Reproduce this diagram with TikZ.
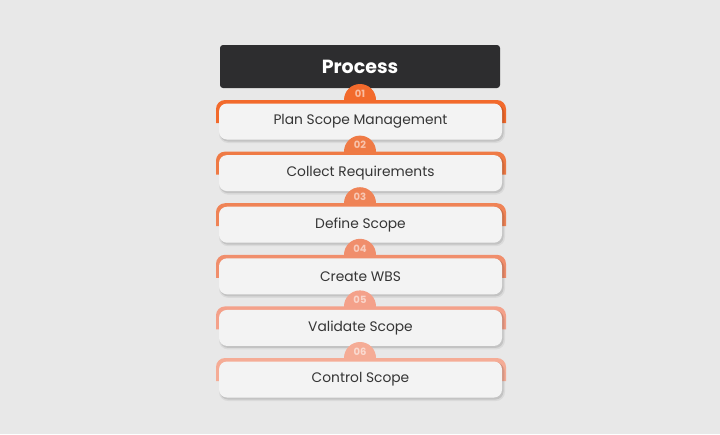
\documentclass[tikz,border=0pt]{standalone}
\usepackage{fontspec}
\setmainfont{Poppins}
\begin{document}
\begin{tikzpicture}[x=1pt,y=-1pt,
  every node/.style={inner sep=0pt,outer sep=0pt},
  cardbox/.style={rounded corners=8pt,fill=cardfill,minimum width=283pt,minimum height=36pt,
    font=\fontsize{13.8}{16}\selectfont,text=txt},
  numdisc/.style={circle,minimum size=32pt},
  numtext/.style={font=\fontsize{10}{12}\selectfont\bfseries},
  headbox/.style={rounded corners=3pt,fill=headfill,minimum width=280pt,minimum height=43pt,
    text=white,font=\fontsize{19}{21}\selectfont\bfseries}]
\definecolor{bg}{HTML}{E8E8E8}
\definecolor{cardfill}{HTML}{F3F3F3}
\definecolor{headfill}{HTML}{2D2D2F}
\definecolor{txt}{HTML}{353535}
\definecolor{oA}{HTML}{F26A2C}
\definecolor{oB}{HTML}{EF7A45}
\definecolor{oC}{HTML}{EF8356}
\definecolor{oD}{HTML}{F08E6C}
\definecolor{oE}{HTML}{F4A18A}
\definecolor{oF}{HTML}{F5AC96}
\fill[bg] (0,0) rectangle (720,434);
\useasboundingbox (0,0) rectangle (720,434);
% header
\node[headbox] (head) at (360,66.5) {Process};
% rows
\foreach \i/\col/\num/\lab in {1/oA/01/Plan Scope Management,2/oB/02/Collect Requirements,3/oC/03/Define Scope,4/oD/04/Create WBS,5/oE/05/Validate Scope,6/oF/06/Control Scope}{
  \pgfmathsetmacro{\T}{100+51.6*(\i-1)}
  \node[numdisc,fill=\col] (n\i) at (360,\T) {};
  \node[numtext,text=\col!45!white] (t\i) at (360,\T-6.5) {\num};
  \fill[\col] (216,\T+23) [rounded corners=9pt] -- (216,\T) -- (506,\T) [sharp corners] -- (506,\T+23) -- cycle;
  \fill[black,opacity=0.06,rounded corners=9pt] (219,\T+5) rectangle (505,\T+43);
  \fill[black,opacity=0.10,rounded corners=8pt] (220,\T+4) rectangle (503.5,\T+41.5);
  \node[cardbox] (c\i) at (360.5,\T+21.5) {\lab};
}
\end{tikzpicture}
\end{document}
